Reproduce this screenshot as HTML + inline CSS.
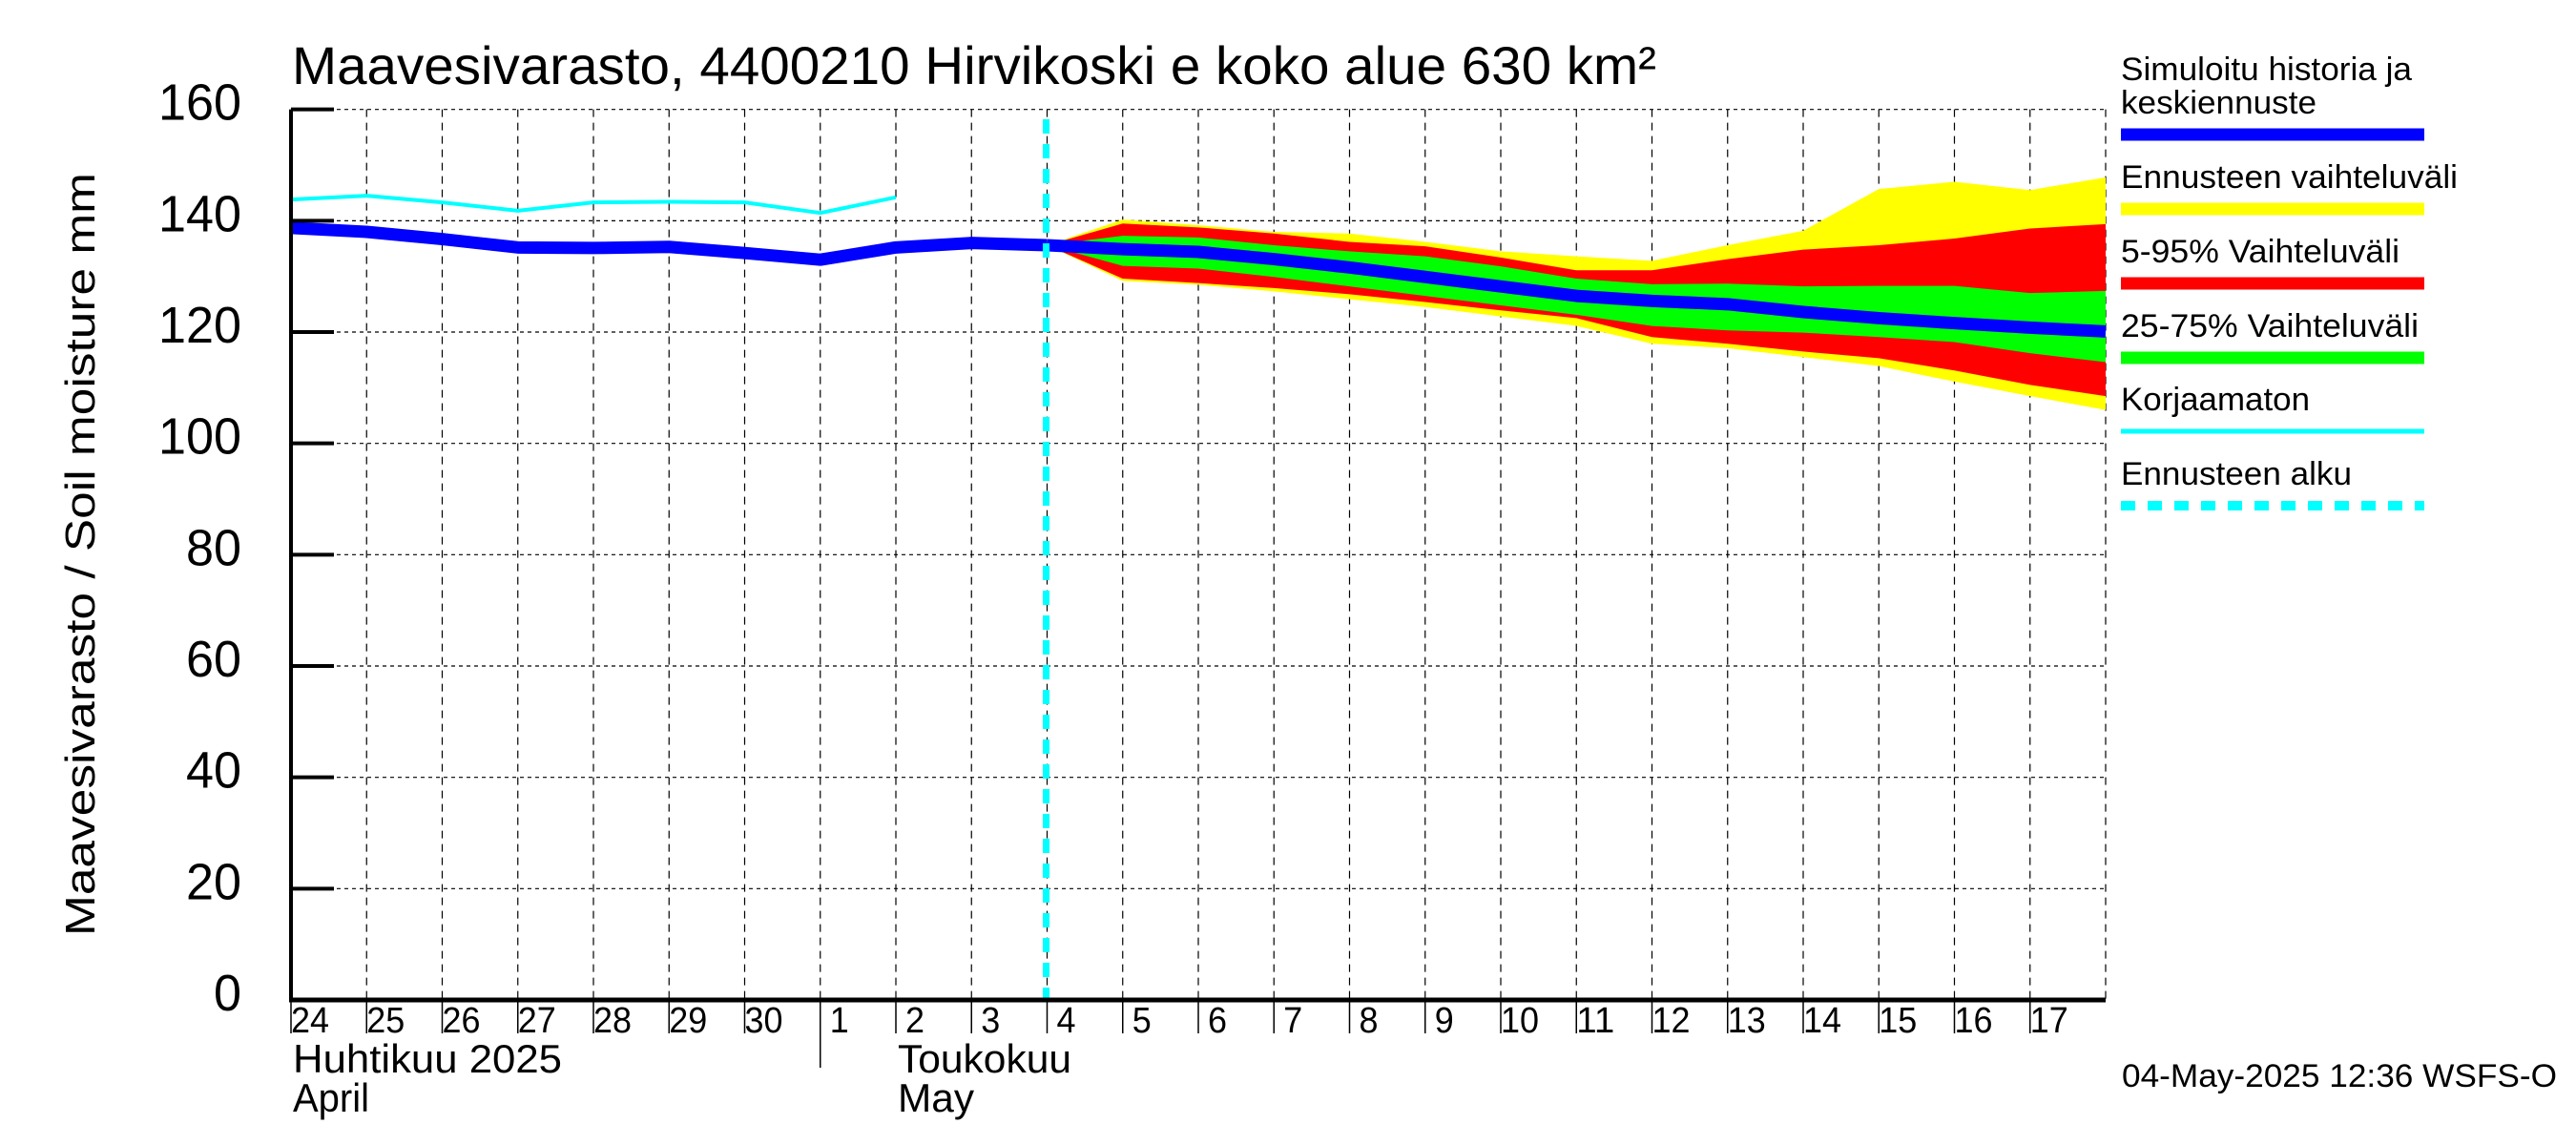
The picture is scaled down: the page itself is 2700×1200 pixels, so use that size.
<!DOCTYPE html>
<html><head><meta charset="utf-8"><style>
html,body{margin:0;padding:0;background:#fff;}
svg{display:block;font-family:"Liberation Sans",sans-serif;}
</style></head><body>
<svg id="chart" width="2700" height="1200" viewBox="0 0 2700 1200" xmlns="http://www.w3.org/2000/svg">
<rect width="2700" height="1200" fill="#fff"/>
<g id="grid"></g>
<g id="bands"></g>
<g id="lines"></g>
<g id="axes"></g>
<text x="306" y="88" font-size="56" textLength="1430" lengthAdjust="spacingAndGlyphs">Maavesivarasto, 4400210 Hirvikoski e koko alue 630 km²</text>
<text transform="translate(99,581) rotate(-90)" text-anchor="middle" font-size="44" textLength="800" lengthAdjust="spacingAndGlyphs">Maavesivarasto / Soil moisture   mm</text>
<text x="307" y="1124" font-size="42" textLength="282" lengthAdjust="spacingAndGlyphs">Huhtikuu  2025</text>
<text x="307" y="1165" font-size="42" textLength="80" lengthAdjust="spacingAndGlyphs">April</text>
<text x="941" y="1124" font-size="42" textLength="182" lengthAdjust="spacingAndGlyphs">Toukokuu</text>
<text x="941" y="1165" font-size="42" textLength="80" lengthAdjust="spacingAndGlyphs">May</text>
<text x="2224" y="1139" font-size="34" textLength="456" lengthAdjust="spacingAndGlyphs">04-May-2025 12:36 WSFS-O</text>
<g id="legend"></g>
</svg>
<script>
const dayLabels = ["24","25","26","27","28","29","30","1","2","3","4","5","6","7","8","9","10","11","12","13","14","15","16","17"];
const yTicks = [0,20,40,60,80,100,120,140,160];
const historyValues = [138.7,138.0,136.7,135.2,135.1,135.3,134.2,133.0,135.2,136.0,135.6];
const uncorrectedValues = [143.8,144.5,143.3,141.8,143.3,143.4,143.3,141.4,144.2];
const medianForecast = [135.6,134.9,134.4,133.1,131.6,129.9,128.2,126.5,125.6,125.0,123.6,122.5,121.6,120.8,120.1];
const rangeMax = [135.6,140.2,139.2,138.0,137.7,136.2,134.5,133.6,132.8,135.6,138.2,145.7,147.0,145.5,147.8];
const rangeMin = [135.6,129.2,128.5,127.3,125.9,124.5,122.8,121.1,117.9,117.1,115.5,113.9,111.1,108.5,106.0];
const p95 = [135.6,139.5,138.8,137.7,136.2,135.4,133.4,131.1,131.1,133.1,134.8,135.6,136.8,138.6,139.4];
const p05 = [135.6,129.6,128.8,127.9,126.8,125.4,123.9,122.5,119.1,117.9,116.5,115.3,113.1,110.5,108.5];
const p75 = [135.6,137.3,137.0,135.6,134.5,133.6,131.8,129.6,128.6,128.7,128.2,128.3,128.3,127.0,127.4];
const p25 = [135.6,131.9,131.4,129.9,128.2,126.5,124.8,123.1,121.1,120.3,119.9,119.1,118.2,116.2,114.6];
const forecastStartIndex = 10;
const NS = "http://www.w3.org/2000/svg";
const X0 = 305, DX = 79.25, Y0 = 1048, YS = 5.8333;
function xs(i){return X0 + i*DX;}
function ys(v){return Y0 - v*YS;}
function mk(parent, tag, attrs){const e=document.createElementNS(NS,tag);for(const k in attrs)e.setAttribute(k,attrs[k]);parent.appendChild(e);return e;}
const grid=document.getElementById('grid'), bands=document.getElementById('bands'), lines=document.getElementById('lines'), axes=document.getElementById('axes'), legend=document.getElementById('legend');
const nDays = dayLabels.length + 1;
const XR = xs(nDays-1);
yTicks.forEach(v=>{
  if(v>0){const l=mk(grid,'line',{x1:X0,x2:XR,y1:ys(v),y2:ys(v),stroke:'#000','stroke-width':1.2,'stroke-dasharray':'4,4'});
  
  }
  const t=mk(axes,'line',{x1:X0,x2:X0+45,y1:ys(v),y2:ys(v),stroke:'#000','stroke-width':4});
  
  
  const tx=mk(axes,'text',{x:253,y:ys(v)+11,'text-anchor':'end','font-size':54});
  tx.textContent=String(v);
  const s=String(v).length;
  tx.setAttribute('textLength',s*29);
  tx.setAttribute('lengthAdjust','spacingAndGlyphs');
  
  
});
for(let i=1;i<nDays;i++){
  const l=mk(grid,'line',{x1:xs(i),x2:xs(i),y1:ys(160),y2:Y0,stroke:'#000','stroke-width':1.2,'stroke-dasharray':'8,6'});
  
  
}
dayLabels.forEach((d,i)=>{
  const t=mk(axes,'line',{x1:xs(i),x2:xs(i),y1:Y0,y2:1083,stroke:'#000','stroke-width':1.5});
  
  
  const tx=mk(axes,'text',{x:xs(i)+20,y:1082,'text-anchor':'middle','font-size':38,textLength:d.length*20,lengthAdjust:'spacingAndGlyphs'});
  tx.textContent=d;
  
  
});
const sep=mk(axes,'line',{x1:xs(7),x2:xs(7),y1:Y0,y2:1119,stroke:'#000','stroke-width':1.5});


function band(top,bot,color,name){
  let d='';
  top.forEach((v,k)=>{d+=(k?'L':'M')+xs(forecastStartIndex+k)+','+ys(v);});
  for(let k=bot.length-1;k>=0;k--)d+='L'+xs(forecastStartIndex+k)+','+ys(bot[k]);
  const p=mk(bands,'path',{d:d+'Z',fill:color});
  
  
}
band(rangeMax,rangeMin,'#ffff00','band-full-range');
band(p95,p05,'#ff0000','band-5-95');
band(p75,p25,'#00ff00','band-25-75');
function line(vals,off,color,w,name){
  const pts=vals.map((v,k)=>xs(off+k)+','+ys(v)).join(' ');
  const p=mk(lines,'polyline',{points:pts,fill:'none',stroke:color,'stroke-width':w,'stroke-linejoin':'round'});
  
  
}
line(uncorrectedValues,0,'#00ffff',4,'uncorrected-line');
line(historyValues,0,'#0000ff',13,'history-line');
line(medianForecast,forecastStartIndex,'#0000ff',13,'median-forecast-line');
const fs=mk(lines,'line',{x1:xs(forecastStartIndex)-1,x2:xs(forecastStartIndex)-1,y1:125,y2:Y0,stroke:'#00ffff','stroke-width':7,'stroke-dasharray':'15,11'});


const ax1=mk(axes,'line',{x1:X0,x2:X0,y1:ys(160),y2:Y0+2,stroke:'#000','stroke-width':4});


const ax2=mk(axes,'line',{x1:X0-2,x2:XR,y1:Y0,y2:Y0,stroke:'#000','stroke-width':5});


const legendItems=[
 {t:['Simuloitu historia ja','keskiennuste'],b:[84,119],c:'#0000ff',y:141,w:13,dash:null},
 {t:['Ennusteen vaihteluväli'],b:[197],c:'#ffff00',y:219,w:13,dash:null},
 {t:['5-95% Vaihteluväli'],b:[275],c:'#ff0000',y:297,w:13,dash:null},
 {t:['25-75% Vaihteluväli'],b:[353],c:'#00ff00',y:375,w:13,dash:null},
 {t:['Korjaamaton'],b:[430],c:'#00ffff',y:452,w:5,dash:null},
 {t:['Ennusteen alku'],b:[508],c:'#00ffff',y:530,w:10,dash:'15,13'}
];
const widths={'Simuloitu historia ja':305,'keskiennuste':205,'Ennusteen vaihteluväli':353,'5-95% Vaihteluväli':292,'25-75% Vaihteluväli':312,'Korjaamaton':198,'Ennusteen alku':242};
legendItems.forEach(it=>{
  it.t.forEach((s,k)=>{
    const tx=mk(legend,'text',{x:2223,y:it.b[k],'font-size':34,textLength:widths[s],lengthAdjust:'spacingAndGlyphs'});
    tx.textContent=s;
    
    
  });
  const a={x1:2223,x2:2541,y1:it.y,y2:it.y,stroke:it.c,'stroke-width':it.w};
  if(it.dash)a['stroke-dasharray']=it.dash;
  const l=mk(legend,'line',a);
  
  
});
</script>
</body></html>
